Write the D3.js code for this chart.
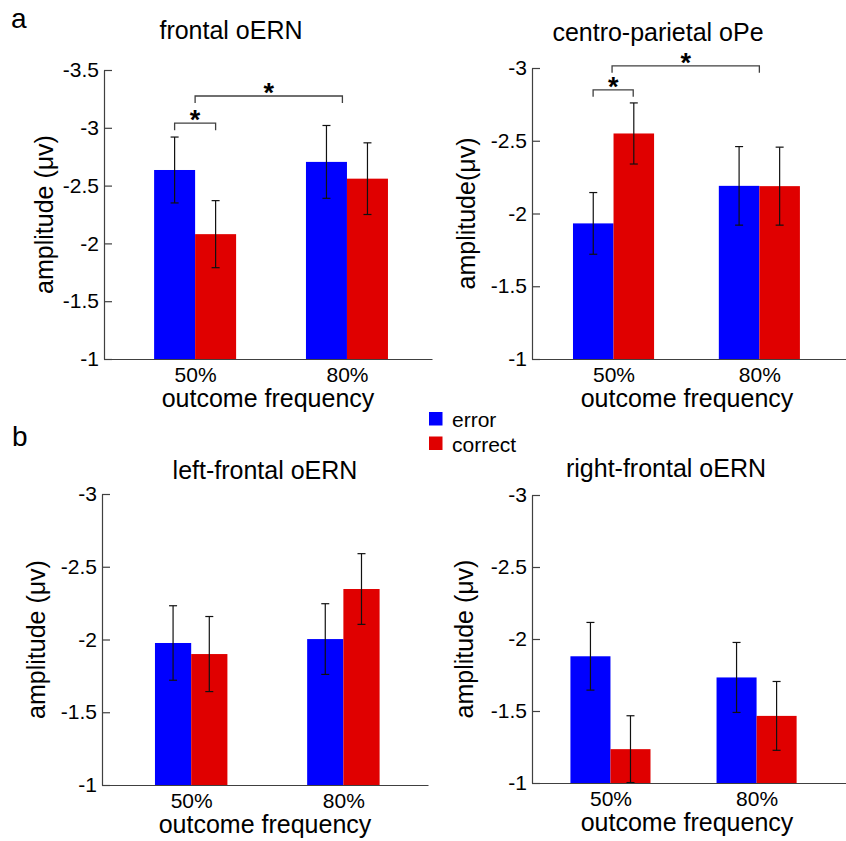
<!DOCTYPE html>
<html>
<head>
<meta charset="utf-8">
<script src="https://cdn.jsdelivr.net/npm/d3@7"></script>
<style>
  body { margin: 0; background: #fff; }
  svg { display: block; font-family: "Liberation Sans", Arial, sans-serif; }
</style>
</head>
<body>
<svg id="chart" width="846" height="841"></svg>
<script>
// values (amplitude in µV)
const categories = ["50%", "80%"];
const conditions = ["error", "correct"];

const frontalError = [-2.635, -2.705];
const frontalErrorSE = [0.285, 0.315];
const frontalCorrect = [-2.08, -2.56];
const frontalCorrectSE = [0.29, 0.31];

const parietalError = [-1.932, -2.19];
const parietalErrorSE = [0.212, 0.27];
const parietalCorrect = [-2.55, -2.188];
const parietalCorrectSE = [0.21, 0.268];

const leftError = [-1.976, -2.003];
const leftErrorSE = [0.256, 0.243];
const leftCorrect = [-1.9, -2.347];
const leftCorrectSE = [0.258, 0.243];

const rightError = [-1.88, -1.733];
const rightErrorSE = [0.235, 0.243];
const rightCorrect = [-1.235, -1.466];
const rightCorrectSE = [0.232, 0.239];

const ticksFrontal = [-3.5, -3, -2.5, -2, -1.5, -1];
const ticksOther = [-3, -2.5, -2, -1.5, -1];

// significance brackets: [x-start, x-end] in category units, level in µV
const frontalSig = [
  { x1: 0.865, x2: 1.135, level: -3.04 },
  { x1: 1.0, x2: 1.97, level: -3.275 }
];
const parietalSig = [
  { x1: 0.86, x2: 1.135, level: -2.85 },
  { x1: 0.99, x2: 2.0, level: -3.015 }
];

const colors = { error: "#0000ff", correct: "#e00000" };

const panels = [
  { title: "frontal oERN", ylabel: "amplitude (\u03bcv)", err: frontalError, errSE: frontalErrorSE, cor: frontalCorrect, corSE: frontalCorrectSE,
    ticks: ticksFrontal, yMax: -3.5, sig: frontalSig,
    left: 104, right: 432, top: 70, bottom: 359, xDomain: [0.4, 2.56], barW: 0.27, titleX: 231, titleY: 39, ylabX: 53 },
  { title: "centro-parietal oPe", ylabel: "amplitude(\u03bcv)", err: parietalError, errSE: parietalErrorSE, cor: parietalCorrect, corSE: parietalCorrectSE,
    ticks: ticksOther, yMax: -3, sig: parietalSig,
    left: 532, right: 846, top: 68, bottom: 359, xDomain: [0.441, 2.594], barW: 0.278, titleX: 658, titleY: 41, ylabX: 475 },
  { title: "left-frontal oERN", ylabel: "amplitude (\u03bcv)", err: leftError, errSE: leftErrorSE, cor: leftCorrect, corSE: leftCorrectSE,
    ticks: ticksOther, yMax: -3, sig: [],
    left: 102, right: 428, top: 494, bottom: 785, xDomain: [0.414, 2.556], barW: 0.238, titleX: 265, titleY: 479, ylabX: 45 },
  { title: "right-frontal oERN", ylabel: "amplitude (\u03bcv)", err: rightError, errSE: rightErrorSE, cor: rightCorrect, corSE: rightCorrectSE,
    ticks: ticksOther, yMax: -3, sig: [],
    left: 532, right: 846, top: 495, bottom: 783, xDomain: [0.463, 2.612], barW: 0.274, titleX: 666, titleY: 477, ylabX: 473 }
];

const svg = d3.select("#chart");

function drawPanel(p) {
  const x = d3.scaleLinear().domain(p.xDomain).range([p.left, p.right]);
  const y = d3.scaleLinear().domain([-1, p.yMax]).range([p.bottom, p.top]);
  const g = svg.append("g");

  const rows = [];
  categories.forEach((cat, i) => {
    rows.push({ cat, cond: "error", pos: i + 1 - p.barW / 2, v: p.err[i], se: p.errSE[i] });
    rows.push({ cat, cond: "correct", pos: i + 1 + p.barW / 2, v: p.cor[i], se: p.corSE[i] });
  });
  const bw = x(p.barW) - x(0);

  g.selectAll(".bar")
    .data(rows)
    .join("rect")
    .attr("x", (d) => x(d.pos) - bw / 2)
    .attr("y", (d) => y(d.v))
    .attr("width", bw)
    .attr("height", (d) => y(-1) - y(d.v))
    .attr("fill", (d) => colors[d.cond]);

  // error bars
  const eb = g.selectAll(".eb").data(rows).join("g").attr("stroke", "#111").attr("stroke-width", 1.2);
  eb.append("line")
    .attr("x1", (d) => x(d.pos)).attr("x2", (d) => x(d.pos))
    .attr("y1", (d) => y(d.v - d.se)).attr("y2", (d) => y(d.v + d.se));
  eb.append("line")
    .attr("x1", (d) => x(d.pos) - 4).attr("x2", (d) => x(d.pos) + 4)
    .attr("y1", (d) => y(d.v - d.se)).attr("y2", (d) => y(d.v - d.se));
  eb.append("line")
    .attr("x1", (d) => x(d.pos) - 4).attr("x2", (d) => x(d.pos) + 4)
    .attr("y1", (d) => y(d.v + d.se)).attr("y2", (d) => y(d.v + d.se));

  // y axis
  g.append("g")
    .attr("transform", `translate(${p.left},0)`)
    .call(d3.axisLeft(y).tickValues(p.ticks).tickFormat((d) => String(d)).tickSize(-8).tickSizeOuter(0).tickPadding(5))
    .call((a) => a.selectAll("path,line").attr("stroke", "#404040").attr("stroke-width", 1.2))
    .call((a) => a.selectAll("text").attr("fill", "#000").style("font-size", "21px").style("font-family", "Liberation Sans, Arial, sans-serif"));

  // x axis
  g.append("g")
    .attr("transform", `translate(0,${p.bottom})`)
    .call(d3.axisBottom(x).tickValues([1, 2]).tickFormat((d) => categories[d - 1]).tickSize(0).tickPadding(8))
    .call((a) => a.select(".domain").attr("stroke", "#404040").attr("stroke-width", 1.2))
    .call((a) => a.selectAll("text").attr("fill", "#000").style("font-size", "21px").style("font-family", "Liberation Sans, Arial, sans-serif"));

  g.append("text")
    .attr("x", (p.left + p.right) / 2 + (p.right > 840 ? -2 : 0))
    .attr("y", p.bottom + 48)
    .attr("text-anchor", "middle")
    .style("font-size", "25px")
    .text("outcome frequency");

  g.append("text")
    .attr("transform", `translate(${p.ylabX},${(p.top + p.bottom) / 2}) rotate(-90)`)
    .attr("text-anchor", "middle")
    .style("font-size", "25px")
    .text(p.ylabel);

  g.append("text")
    .attr("x", p.titleX)
    .attr("y", p.titleY)
    .attr("text-anchor", "middle")
    .style("font-size", "25px")
    .text(p.title);

  // significance brackets
  const sg = g.selectAll(".sig").data(p.sig).join("g");
  sg.append("path")
    .attr("d", (d) => `M${x(d.x1)},${y(d.level) + 7}V${y(d.level)}H${x(d.x2)}V${y(d.level) + 7}`)
    .attr("fill", "none")
    .attr("stroke", "#404040")
    .attr("stroke-width", 1.3);
  sg.append("text")
    .attr("x", (d) => (x(d.x1) + x(d.x2)) / 2)
    .attr("y", (d) => y(d.level) + 6)
    .attr("text-anchor", "middle")
    .style("font-size", "27px")
    .style("font-weight", "bold")
    .text("*");
}

panels.forEach(drawPanel);

// legend
const legend = svg.append("g");
conditions.forEach((c, i) => {
  legend.append("rect").attr("x", 429).attr("y", 412 + i * 24.5).attr("width", 13.5).attr("height", 13.5).attr("fill", colors[c]);
  legend.append("text").attr("x", 452).attr("y", 427 + i * 24.5).style("font-size", "21px").text(c);
});

svg.append("text").attr("x", 11).attr("y", 28).style("font-size", "28px").text("a");
svg.append("text").attr("x", 12).attr("y", 446).style("font-size", "28px").text("b");
</script>
</body>
</html>
